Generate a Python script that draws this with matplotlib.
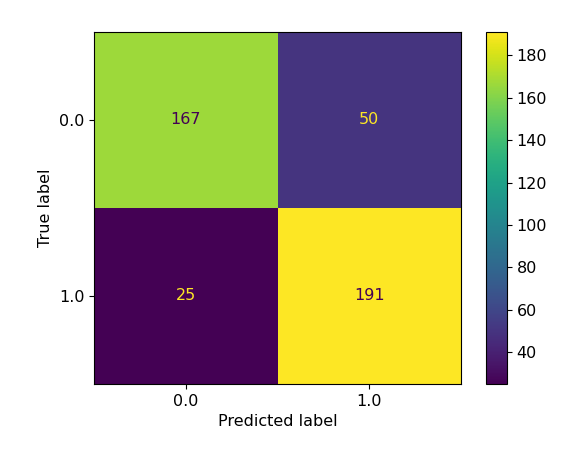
import numpy as np
import matplotlib
matplotlib.use("Agg")
import matplotlib.pyplot as plt

labels = ["0.0", "1.0"]
cm = np.array([[167, 50],
               [25, 191]])
cbar_ticks = [40, 60, 80, 100, 120, 140, 160, 180]

FS = 11.5
W, H = 570, 453
fig = plt.figure(figsize=(W / 100, H / 100), dpi=100)
ax = fig.add_axes([94 / W, (H - 384) / H, 367 / W, 352 / H])
cax = fig.add_axes([486 / W, (H - 384) / H, 21 / W, 352 / H])

cmap = plt.get_cmap("viridis")
im = ax.imshow(cm, cmap=cmap, interpolation="nearest", aspect="auto")
vmin, vmax = cm.min(), cm.max()
thresh = (vmax + vmin) / 2.0
for i in range(cm.shape[0]):
    for j in range(cm.shape[1]):
        color = cmap(0.0) if cm[i, j] > thresh else cmap(1.0)
        ax.text(j, i, str(cm[i, j]), ha="center", va="center", color=color, fontsize=FS)

ax.set_xticks(range(len(labels)))
ax.set_xticklabels(labels)
ax.set_yticks(range(len(labels)))
ax.set_yticklabels(labels)
ax.set_xlabel("Predicted label", fontsize=FS)
ax.set_ylabel("True label", fontsize=FS)
ax.tick_params(labelsize=FS)

cb = fig.colorbar(im, cax=cax)
cb.set_ticks(cbar_ticks)
cb.ax.tick_params(labelsize=FS)

fig.savefig("out.png", dpi=100)
